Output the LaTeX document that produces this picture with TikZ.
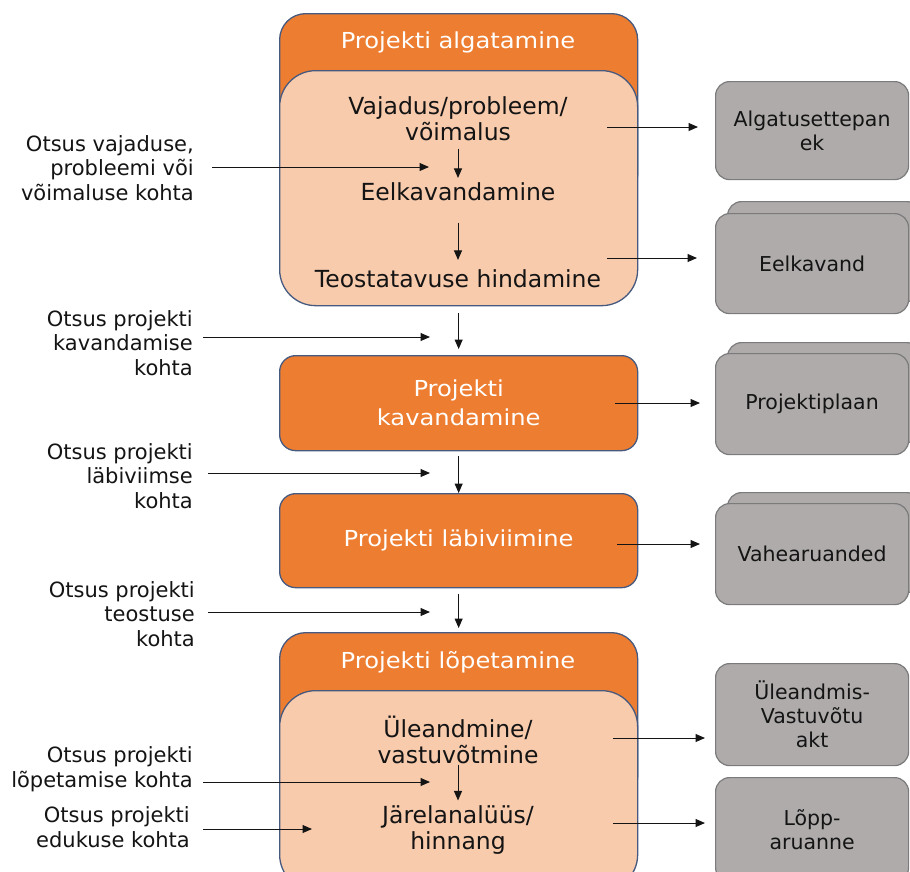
\documentclass[tikz,border=0pt]{standalone}
\usepackage{fontspec}
\setmainfont{DejaVu Sans}
\newfontfamily\hdrfont[FakeStretch=1.1]{DejaVu Sans}
\usetikzlibrary{arrows.meta}
\definecolor{phaseorange}{HTML}{ED7D31}
\definecolor{phasepeach}{HTML}{F8CBAD}
\definecolor{phaseedge}{HTML}{46597F}
\definecolor{docfill}{HTML}{AFABAB}
\definecolor{docedge}{HTML}{7B7B7B}
\definecolor{ink}{HTML}{141414}

\begin{document}
\begin{tikzpicture}[x=1pt,y=-1pt,
  orangebox/.style={draw=phaseedge, line width=1.3pt, fill=phaseorange, inner sep=0pt,
    minimum width=358pt, anchor=north west, text=white, align=center,
    font=\hdrfont\fontsize{22}{29}\selectfont},
  peachbox/.style={draw=phaseedge, line width=1.3pt, fill=phasepeach, inner sep=0pt,
    minimum width=358pt, anchor=north west, rounded corners=36pt},
  headtext/.style={inner sep=0pt, anchor=base, text=white,
    font=\hdrfont\fontsize{22}{25}\selectfont},
  steptext/.style={inner sep=0pt, anchor=base, align=center, text=ink,
    font=\fontsize{23.5}{25.5}\selectfont},
  decision/.style={inner sep=0pt, anchor=base east, align=right, text=ink,
    font=\fontsize{21}{24.3}\selectfont},
  docbox/.style={draw=docedge, line width=1.2pt, fill=docfill, rounded corners=14pt,
    inner sep=0pt, minimum width=193pt, anchor=north west, align=center, text=ink,
    font=\fontsize{20.5}{24}\selectfont},
  arr/.style={draw=ink, line width=1pt, -{Triangle[length=9.5pt,width=8pt]}}
]
\useasboundingbox (0,0) rectangle (910,871);
\clip (0,0) rectangle (910,871);

% --- initiation phase (text nodes are placed by the baseline of their last line)
\node[orangebox, rounded corners=26pt, minimum height=187pt] (initHead) at (279,13) {};
\node[peachbox, minimum height=235pt] (initBody) at (279,70) {};
\node[headtext] (initTitle) at (458,48) {Projekti algatamine};
\node[steptext] (need) at (458,140) {Vajadus/probleem/\\võimalus};
\node[steptext] (prelim) at (458,200) {Eelkavandamine};
\node[steptext] (feas) at (458,287) {Teostatavuse hindamine};

% --- planning and execution phases
\node[orangebox, rounded corners=16pt, minimum height=95pt] (plan) at (279,355) {Projekti\\kavandamine};
\node[orangebox, rounded corners=16pt, minimum height=94pt] (exec) at (279,493) {Projekti läbiviimine};

% --- closing phase
\node[orangebox, rounded corners=26pt, minimum height=170pt] (closeHead) at (279,632) {};
\node[peachbox, minimum height=200pt] (closeBody) at (279,690) {};
\node[headtext] (closeTitle) at (458,668) {Projekti lõpetamine};
\node[steptext] (handover) at (458,763) {Üleandmine/\\vastuvõtmine};
\node[steptext] (review) at (458,849) {Järelanalüüs/\\hinnang};

% --- documents produced
\node[docbox, minimum height=98pt] (proposal) at (715,81) {Algatusettepan\\ek};
\node[docbox, minimum height=100pt] (draftBack) at (727,201) {};
\node[docbox, minimum height=100pt] (draft) at (715,213) {Eelkavand};
\node[docbox, minimum height=100pt] (planDocBack) at (727,342) {};
\node[docbox, minimum height=101pt] (planDoc) at (715,353) {Projektiplaan};
\node[docbox, minimum height=100pt] (reportsBack) at (727,492) {};
\node[docbox, minimum height=101pt] (reports) at (715,503) {Vahearuanded};
\node[docbox, minimum height=102pt] (handoverDoc) at (715,663) {Üleandmis-\\Vastuvõtu\\akt};
\node[docbox, minimum height=104pt] (finalDoc) at (715,777) {Lõpp-\\aruanne};

% --- decisions
\node[decision] (dec1) at (194,200) {Otsus vajaduse,\\probleemi või\\võimaluse kohta};
\node[decision] (dec2) at (193,375) {Otsus projekti\\kavandamise\\kohta};
\node[decision] (dec3) at (193,508) {Otsus projekti\\läbiviimse\\kohta};
\node[decision] (dec4) at (195,646) {Otsus projekti\\teostuse\\kohta};
\node[decision] (dec5) at (193,787) {Otsus projekti\\lõpetamise kohta};
\node[decision] (dec6) at (190,847) {Otsus projekti\\edukuse kohta};

% arrow tips of the decision connectors
\coordinate (t1) at (429,167);
\coordinate (t2) at (430,337);
\coordinate (t3) at (430,473);
\coordinate (t4) at (430,612);
\coordinate (t5) at (430,782);
\coordinate (t6) at (312,829);

% starts of the document connectors
\coordinate (o1) at (607,127);
\coordinate (o2) at (607,258);
\coordinate (o3) at (615,403);
\coordinate (o4) at (617,544);
\coordinate (o5) at (613,738);
\coordinate (o6) at (613,823);

% flow between steps and phases
\draw[arr, shorten <=8pt, shorten >=4pt] (need.south) -- (prelim.north);
\draw[arr, shorten <=22pt, shorten >=9pt] (prelim.south) -- (feas.north);
\draw[arr, shorten <=7pt, shorten >=6pt] (initBody.south) -- (plan.north);
\draw[arr, shorten <=5pt] (plan.south) -- (exec.north);
\draw[arr, shorten <=6pt, shorten >=4pt] (exec.south) -- (closeHead.north);
\draw[arr, shorten <=1pt, shorten >=5pt] (handover.south) -- (review.north);

% decisions feeding in
\draw[arr, shorten <=18pt] (dec1.east |- t1) -- (t1);
\draw[arr, shorten <=10pt] (dec2.east |- t2) -- (t2);
\draw[arr, shorten <=15pt] (dec3.east |- t3) -- (t3);
\draw[arr, shorten <=13pt] (dec4.east |- t4) -- (t4);
\draw[arr, shorten <=10pt] (dec5.east |- t5) -- (t5);
\draw[arr, shorten <=13pt] (dec6.east |- t6) -- (t6);

% outputs
\draw[arr, shorten >=17pt] (o1) -- (o1 -| proposal.west);
\draw[arr, shorten >=18pt] (o2) -- (o2 -| draft.west);
\draw[arr, shorten >=15pt] (o3) -- (o3 -| planDoc.west);
\draw[arr, shorten >=15pt] (o4) -- (o4 -| reports.west);
\draw[arr, shorten >=10pt] (o5) -- (o5 -| handoverDoc.west);
\draw[arr, shorten >=10pt] (o6) -- (o6 -| finalDoc.west);
\end{tikzpicture}
\end{document}
